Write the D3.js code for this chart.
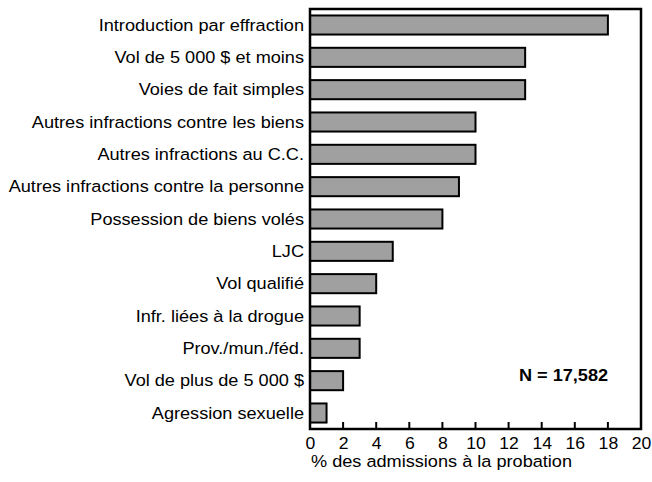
<!DOCTYPE html>
<html><head><meta charset="utf-8">
<script src="https://cdn.jsdelivr.net/npm/d3@7"></script>
<style>body{margin:0;background:#fff}</style>
</head><body><svg id="c" width="652" height="482"></svg>
<script>
const categories = ["Introduction par effraction","Vol de 5 000 $ et moins","Voies de fait simples","Autres infractions contre les biens","Autres infractions au C.C.","Autres infractions contre la personne","Possession de biens volés","LJC","Vol qualifié","Infr. liées à la drogue","Prov./mun./féd.","Vol de plus de 5 000 $","Agression sexuelle"];
const values = [18,13,13,10,10,9,8,5,4,3,3,2,1];
const xTicks = [0,2,4,6,8,10,12,14,16,18,20];
const xTitle = "% des admissions à la probation";
const note = "N = 17,582";

const svg = d3.select("#c");
const L = 310, R = 641, T = 9, B = 429;
const font = "Liberation Sans, Arial, sans-serif";
const FS = 16.5, SX = 1.1;
const x = d3.scaleLinear().domain([0,20]).range([L,R]);
const y = d3.scaleBand().domain(categories).range([T,B]).paddingInner(0.41).paddingOuter(0.2);

svg.append("g").selectAll("rect").data(values).join("rect")
  .attr("x", x(0)).attr("y", (d,i)=>y(categories[i]))
  .attr("width", d=>x(d)-x(0)).attr("height", y.bandwidth())
  .attr("fill","#a0a0a0").attr("stroke","#000").attr("stroke-width",2);

// frame
svg.append("rect").attr("x",L).attr("y",T).attr("width",R-L).attr("height",B-T)
  .attr("fill","none").attr("stroke","#000").attr("stroke-width",2.5);

// ticks
const ax = d3.axisBottom(x).tickValues(xTicks).tickSize(0).tickPadding(9);
const g = svg.append("g").attr("transform",`translate(0,${B})`).call(ax);
g.attr("font-size",null).attr("font-family",null);
g.select(".domain").remove();
g.selectAll("text").style("font-family",font).style("font-size","16px").attr("fill","#000")
  .attr("transform",`scale(${SX},1)`);
svg.append("g").selectAll("line").data(xTicks.slice(1,-1)).join("line")
  .attr("x1",d=>x(d)).attr("x2",d=>x(d)).attr("y1",B).attr("y2",B-7)
  .attr("stroke","#000").attr("stroke-width",2);

function stretchedText(sel, px, py){
  return sel.attr("transform", (d,i)=>`translate(${px(d,i)},${py(d,i)}) scale(${SX},1)`);
}

// category labels
stretchedText(svg.append("g").selectAll("text").data(categories).join("text"),
  ()=>L-6, d=>y(d)+y.bandwidth()/2)
  .attr("dy","0.35em")
  .attr("text-anchor","end").attr("font-family",font).attr("font-size",FS).text(d=>d);

svg.append("text").attr("transform",`translate(${441.5},467) scale(${SX},1)`).attr("text-anchor","middle")
  .attr("font-family",font).attr("font-size",FS).text(xTitle);

svg.append("text").attr("transform",`translate(563.5,381) scale(${SX},1)`).attr("text-anchor","middle")
  .attr("font-family",font).attr("font-size",FS).attr("font-weight","bold").text(note);
</script></body></html>
